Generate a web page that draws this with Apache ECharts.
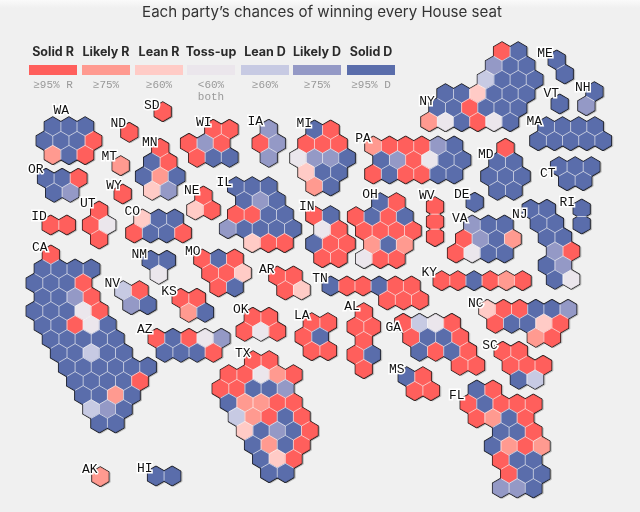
<!DOCTYPE html>
<html><head><meta charset="utf-8">
<style>html,body{margin:0;padding:0;background:#f0f0f0}#c{width:640px;height:512px}</style>
<script src="https://cdn.jsdelivr.net/npm/echarts@6/dist/echarts.min.js"></script>
</head><body><div id="c"></div>
<script>
const title = "Each party’s chances of winning every House seat";
const ratingNames = ["Solid R","Likely R","Lean R","Toss-up","Lean D","Likely D","Solid D"];
const ratingNotes = ["≥95% R","≥75%","≥60%","<60%\nboth","≥60%","≥75%","≥95% D"];
const ratingColors = ["#ff5f5c","#ff9a90","#ffcbc6","#ebe6ec","#c7cae3","#9499c6","#5a6dab"];

// Seat ratings per state: 1 = Solid R ... 7 = Solid D, laid out on the hexagon grid
const WA=[" 7 7 7","7 7 7 1"," 2 7 1"];
const OR=["7 7 1"," 7 6"];
const CA=["  1"," 7 7 7 7","7 7 7 1"," 7 7 6 1","7 7 7 4 1"," 7 7 1 4 7","  7 7 7 7 7","   7 7 5 7 7","    7 7 7 7 7 7","     7 7 7 7 1","      7 7 2 7","       5 6 7","        7 7"];
const ID=["1 1"];
const NV=["5 1"," 6 7"];
const UT=[" 1","1 4"," 1"];
const AZ=["1 7 1 4 6"," 7 7 7 1"];
const MT=["2"];
const WY=["1"];
const CO=[" 3 7 7","1 7 7 1"];
const NM=["7 7"," 4"];
const ND=["1"];
const SD=["1"];
const NE=[" 1","3 1"];
const KS=["1 1"," 2 7"];
const OK=[" 1 1","1 4 1"];
const TX=["    1 1"," 1 1 4 2 1","1 1 7 7 6"," 7 2 2 1 1","  5 2 1 7 1","   3 7 6 7 1","    7 2 7 1","     7 3 1","      7 7"];
const MN=["  1"," 7 1","7 2 7"," 3 6"];
const IA=[" 6","1 6"," 6"];
const MO=["1 7 1"," 1 1 3","  1 7"];
const AR=["1 1"," 1 3"];
const LA=[" 1 1","1 7"," 1 1"];
const WI=["   1 1","1 6 1"," 1 7 7"];
const IL=[" 7 7 7","  7 6 7"," 1 1 7 7","6 7 7 7 7","   3 1 1"];
const MI=["  7 1"," 1 1 1","4 6 6 7"," 3 7 7","  2 7"];
const IN=["1 7"," 4 1","7 1 1"," 1 1"];
const OH=["   7 1","1 7 1 7"," 1 1 1 1","  2 7 2"," 4 1 1"];
const KY=["1 1 7 1 2 1"];
const TN=["7 1 1 7 1 1","       1 1 1"];
const MS=["7 1"," 1 1"];
const AL=[" 1","1 1"," 1","1 7"," 1"];
const GA=["1 5 4 1"," 1 7 7 1","  7 1 7 1","       1 1"];
const FL=[" 7 1","1 7 1 1 1"," 1 2 7 1","    7 7 1","   7 2 1 2","    1 7 7","     1 7 7","    6 6 7"];
const SC=["1 1"," 1 1 1","  7 5"];
const NC=["3 1 1 7 7 6"," 1 7 7 3 1","      2 1"];
const VA=["  6 7 7"," 1 6 7 2","1 4 7 7"];
const WV=["1","1","1"];
const PA=["2 1 1 1 6 7"," 7 6 1 4 7 7","1 7 1 1 7 7"];
const NY=["         1 7","        6 7 7","       5 7 7 7","  7 7 3 7 7 7"," 7 7 1 7 7 7","2 4 7 1 4 7"];
const NJ=["7 7"," 7 7","  7 7","   6 1","  7 6","   7 4"];
const DE=["7"];
const MD=["  1"," 7 7","7 7 7"," 7 7"];
const CT=["7 7 7"," 7 7"];
const RI=["7","7"];
const MA=[" 7 7 7 7","7 7 7 7 7"];
const VT=["7"];
const NH=[" 7","6"];
const ME=["7"," 7"];
const AK=["2"];
const HI=["7 7"];

const stateSeats={WA,OR,CA,ID,NV,UT,AZ,MT,WY,CO,NM,ND,SD,NE,KS,OK,TX,MN,IA,MO,AR,LA,WI,IL,MI,IN,OH,KY,TN,MS,AL,GA,FL,SC,NC,VA,WV,PA,NY,NJ,DE,MD,CT,RI,MA,VT,NH,ME,AK,HI};

// where each state's grid starts, in page units
const stateOrigin={WA:[44.7,126.7],OR:[46,178.3],CA:[34.7,255],ID:[50.7,225],NV:[123.3,290.7],UT:[91,211],AZ:[156.7,338.3],MT:[120.7,165.7],WY:[122.7,194],CO:[134.3,219],NM:[150.7,260.3],ND:[129.3,132.3],SD:[162.7,111.7],NE:[195.3,196],KS:[180.7,298.3],OK:[244.7,317.3],TX:[220.7,360.7],MN:[144,148.3],IA:[260.7,129.3],MO:[202.3,259],AR:[277.3,276],LA:[303.7,322.7],WI:[189,129.3],IL:[228,186.7],MI:[298.3,130],IN:[314.3,215.7],OH:[356,202.7],KY:[441.7,280.7],TN:[330.7,286],MS:[406.7,376.7],AL:[355.7,312.7],GA:[403.3,323.3],FL:[468.7,390],SC:[502.7,351.3],NC:[487.3,309.3],VA:[456,225],WV:[435,206.7],PA:[373.3,146],NY:[429.3,51.7],NJ:[530.7,209.3],DE:[474.7,202.3],MD:[489.3,148.3],CT:[559,166.7],RI:[581.7,209],MA:[538.3,126.7],VT:[559.7,104],NH:[586.3,91.7],ME:[556.7,60],AK:[100.3,476.7],HI:[156,476]};
const labelPos={WA:[61.3,110.3],OR:[35.7,169.3],CA:[39.7,247.7],ID:[39,216.7],NV:[112.3,284],UT:[87.7,203.3],AZ:[144.7,330],MT:[109.3,157],WY:[114,185.7],CO:[132.3,212],NM:[139.3,254.7],ND:[118.3,124],SD:[151.7,106],NE:[191.7,190.7],KS:[169,291.7],OK:[240.7,309.7],TX:[242.7,353.7],MN:[149.7,142.3],IA:[255.3,121.3],MO:[192.7,251.7],AR:[266.7,269.3],LA:[301.7,315.7],WI:[203.7,122.3],IL:[224.3,182.7],MI:[304.3,123.7],IN:[306.7,206.7],OH:[370,194.7],KY:[429.3,272.7],TN:[320,278.7],MS:[396.7,370],AL:[352,306.7],GA:[393.3,327.7],FL:[456.7,395.3],SC:[490,345.3],NC:[475.7,303.3],VA:[459.7,218.3],WV:[426.7,195.7],PA:[363,139],NY:[427,102],NJ:[519.7,214.3],DE:[461.7,194.7],MD:[485.7,155],CT:[547.7,173.3],RI:[567.3,202.3],MA:[534.3,122],VT:[551.3,93.7],NH:[582.7,87.3],ME:[545,53.3],AK:[89.7,469.3],HI:[144.7,469]};
const legendLeft=[29,82,135,187,241,293,347];

const HALF=8.08, ROW=14, R=9.33;
const STACKED={WV:15,RI:15};
const cells=[];
Object.keys(stateSeats).forEach(st=>{
  const rows=stateSeats[st], o=stateOrigin[st], step=STACKED[st]||ROW;
  const at=(r,c)=>rows[r]&&rows[r][c]&&rows[r][c]!==' ';
  rows.forEach((line,r)=>{
    for(let c=0;c<line.length;c++){
      if(line[c]===' ')continue;
      const mask=(at(r,c+2)?1:0)|(at(r+1,c+1)?2:0)|(at(r+1,c-1)?4:0)|(at(r+1,c)?8:0);
      cells.push([o[0]+c*HALF,o[1]+r*step,+line[c]-1,mask]);
    }
  });
});
const hex=(x,y,r)=>{const w=r*0.866;return [[x,y-r],[x+w,y-r/2],[x+w,y+r/2],[x,y+r],[x-w,y+r/2],[x-w,y-r/2]];};
const layer=(s)=>(p,api)=>{
  const [x,y]=api.coord([api.value(0),api.value(1)]);
  const col=s.fill||ratingColors[api.value(2)];
  return {type:'polygon',shape:{points:hex(x+(s.dx||0),y+(s.dy||0),s.r)},
    style:{fill:col,stroke:col,lineWidth:s.lw||0,lineJoin:'round'}};
};
const edges=(p,api)=>{
  const [x,y]=api.coord([api.value(0),api.value(1)]),m=api.value(3),w=R*0.866;
  const st={stroke:'rgba(255,255,255,0.8)',lineWidth:0.8},ch=[];
  const ln=(a,b,c,d)=>ch.push({type:'line',shape:{x1:a,y1:b,x2:c,y2:d},style:st});
  if(m&1)ln(x+w,y-R/2,x+w,y+R/2);
  if(m&2)ln(x+w,y+R/2,x,y+R);
  if(m&4)ln(x,y+R,x-w,y+R/2);
  if(m&8)ln(x-5,y+7.5,x+5,y+7.5);
  return {type:'group',children:ch};
};
const hexSeries=(render)=>({type:'custom',coordinateSystem:'cartesian2d',renderItem:render,data:cells,encode:{x:0,y:1},silent:true,clip:false,animation:false});
const labelData=Object.keys(labelPos).map(k=>({name:k,value:labelPos[k]}));
const labelSeries={type:'custom',coordinateSystem:'cartesian2d',data:labelData,encode:{x:0,y:1},silent:true,clip:false,animation:false,z:10,
  renderItem:(p,api)=>{const [x,y]=api.coord([api.value(0),api.value(1)]);
    return {type:'text',x,y,style:{text:labelData[p.dataIndex].name,font:'13px "Liberation Mono"',fill:'#111',stroke:'#fff',lineWidth:3,align:'center',verticalAlign:'middle'}};}};

const graphic=[{type:'rect',shape:{x:0,y:0,width:640,height:8},silent:true,style:{fill:new echarts.graphic.LinearGradient(0,0,0,1,[{offset:0,color:'#fafafa'},{offset:1,color:'#f0f0f0'}])}}];
ratingNames.forEach((n,i)=>{
  const cx=legendLeft[i]+24;
  graphic.push({type:'text',x:cx,y:52,silent:true,style:{text:n,font:'700 12.5px Inter',fill:'#2b2b2b',align:'center',verticalAlign:'middle'}});
  graphic.push({type:'rect',shape:{x:legendLeft[i],y:65,width:48,height:10},silent:true,style:{fill:ratingColors[i]}});
  graphic.push({type:'text',x:cx,y:79,silent:true,style:{text:ratingNotes[i],font:'11px "Liberation Mono"',lineHeight:12,fill:'#999',align:'center',verticalAlign:'top'}});
});

const chart=echarts.init(document.getElementById('c'),null,{renderer:'canvas',width:640,height:512});
chart.setOption({
  animation:false,backgroundColor:'#f0f0f0',
  title:{text:title,left:317,top:0,textAlign:'center',textStyle:{fontFamily:'Inter',fontWeight:400,fontSize:15.1,color:'#333'}},
  grid:{left:0,right:0,top:0,bottom:0},
  xAxis:{type:'value',min:0,max:640,show:false},
  yAxis:{type:'value',min:0,max:512,inverse:true,show:false},
  graphic,
  series:[
    hexSeries(layer({r:R+0.2,dx:1.6,dy:0.8,fill:'#b8b8b8',lw:0.8})),
    hexSeries(layer({r:R,fill:'#111111',lw:2})),
    hexSeries(layer({r:R,lw:0.6})),
    hexSeries(edges),
    labelSeries
  ]
});
</script></body></html>
